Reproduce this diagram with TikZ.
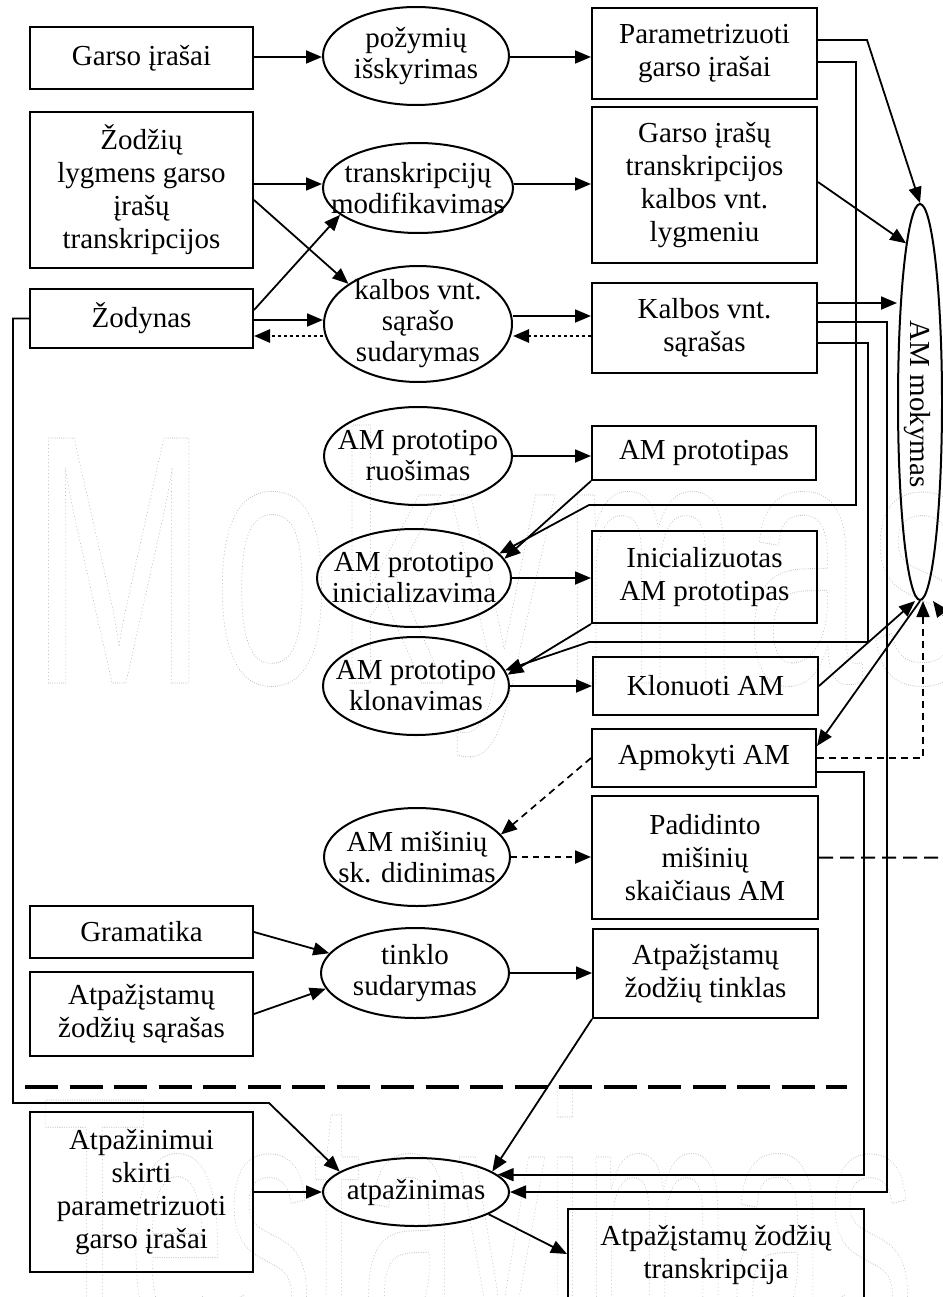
\documentclass[tikz,border=0pt]{standalone}
\usepackage{fontspec}
\setmainfont{Liberation Serif}
\newfontfamily\wmfont{Liberation Sans}
\newfontfamily\wmwidefont{Liberation Sans}[LetterSpace=3.6]
\usetikzlibrary{arrows.meta,shapes.geometric}

\begin{document}
\begin{tikzpicture}[x=1pt,y=-1pt,
  every node/.style={font=\fontsize{29}{33}\selectfont},
  box/.style={draw, line width=2pt, rectangle, inner sep=0pt, align=center},
  ell/.style={draw, line width=2pt, ellipse, inner sep=0pt},
  lbl/.style={align=center, inner sep=0pt, font=\fontsize{29}{31}\selectfont},
  tip/.style={-{Triangle[length=16pt,width=13pt]}},
  conn/.style={line width=1.8pt, tip},
  dotarrow/.style={line width=2.8pt, dash pattern=on 2.8pt off 3.2pt, tip},
  shortdash/.style={line width=1.7pt, dash pattern=on 7pt off 5pt, tip},
  middash/.style={line width=2.2pt, dash pattern=on 6pt off 5pt, tip},
  longdash/.style={line width=2pt, dash pattern=on 14pt off 7pt, tip},
  separator/.style={line width=3.4pt, dash pattern=on 33pt off 11.5pt}]

\useasboundingbox (0,0) rectangle (942,1297);
\fill[white] (0,0) rectangle (942,1297);

% dotted outline lettering in the background
\begin{scope}
\node[inner sep=0pt, anchor=base west] (wmtop) at (31,683)
  {\wmwidefont\fontsize{356}{356}\selectfont\color{black!32}\scalebox{0.59}[1]{\special{pdf:literal direct 1 Tr 1.2 w 1 J [0 3.6] 0 d}Mokymas\special{pdf:literal direct 0 Tr}}};
\end{scope}
\begin{scope}
\node[inner sep=0pt, anchor=base west] (wmbottom) at (41,1345)
  {\wmfont\fontsize{356}{356}\selectfont\color{black!32}\scalebox{0.49}[1]{\special{pdf:literal direct 1 Tr 1.2 w 1 J [0 3.6] 0 d}Testavimas\special{pdf:literal direct 0 Tr}}};
\end{scope}

% left column
\node[box, minimum width=223pt, minimum height=62pt]  (garso)   at (141.5,58)   {Garso įrašai};
\node[box, minimum width=223pt, minimum height=156pt] (zodziu)  at (141.5,190)  {Žodžių\\lygmens garso\\įrašų\\transkripcijos};
\node[box, minimum width=223pt, minimum height=59pt]  (zodynas) at (141.5,318.5) {Žodynas};
\node[box, minimum width=223pt, minimum height=52pt]  (gram)    at (141.5,932)  {Gramatika};
\node[box, minimum width=223pt, minimum height=84pt]  (sarasas) at (141.5,1014) {Atpažįstamų\\žodžių sąrašas};
\node[box, minimum width=223pt, minimum height=160pt] (atpL)    at (141.5,1192) {Atpažinimui\\skirti\\parametrizuoti\\garso įrašai};

% process ellipses
\node[ell, minimum width=186pt, minimum height=98pt]  (pozym)  at (416,56)   {};
\node[lbl] (pozym-t) at (pozym) {požymių\\išskyrimas};
\node[ell, minimum width=190pt, minimum height=90pt]  (trel)   at (418,188)  {};
\node[lbl] (trel-t) at (trel) {transkripcijų\\modifikavimas};
\node[ell, minimum width=188pt, minimum height=116pt] (kel)    at (418,324)  {};
\node[lbl] (kel-t) at (kel) {kalbos vnt.\\sąrašo\\sudarymas};
\node[ell, minimum width=188pt, minimum height=98pt]  (ruos)   at (418,456)  {};
\node[lbl] (ruos-t) at (ruos) {AM prototipo\\ruošimas};
\node[ell, minimum width=194pt, minimum height=98pt]  (inic)   at (414,578)  {};
\node[lbl] (inic-t) at (inic) {AM prototipo\\inicializavima};
\node[ell, minimum width=186pt, minimum height=98pt]  (klonav) at (416,686)  {};
\node[lbl] (klonav-t) at (klonav) {AM prototipo\\klonavimas};
\node[ell, minimum width=186pt, minimum height=98pt]  (misin)  at (417,857)  {};
\node[lbl] (misin-t) at (misin) {AM mišinių\\sk. didinimas};
\node[ell, minimum width=188pt, minimum height=90pt]  (tinklo) at (415,973)  {};
\node[lbl] (tinklo-t) at (tinklo) {tinklo\\sudarymas};
\node[ell, minimum width=186pt, minimum height=68pt]  (atp)    at (416,1192) {};
\node[lbl] (atp-t) at (atp) {atpažinimas};

% right column
\node[box, minimum width=225pt, minimum height=91pt]  (param)   at (704.5,53.5) {Parametrizuoti\\garso įrašai};
\node[box, minimum width=225pt, minimum height=156pt] (transk)  at (704.5,185)  {Garso įrašų\\transkripcijos\\kalbos vnt.\\lygmeniu};
\node[box, minimum width=225pt, minimum height=90pt]  (kalbos)  at (704.5,328)  {Kalbos vnt.\\sąrašas};
\node[box, minimum width=224pt, minimum height=54pt]  (proto)   at (704,453)    {AM prototipas};
\node[box, minimum width=225pt, minimum height=92pt]  (init)    at (704.5,577)  {Inicializuotas\\AM prototipas};
\node[box, minimum width=225pt, minimum height=58pt]  (klon)    at (705.5,686)  {Klonuoti AM};
\node[box, minimum width=224pt, minimum height=58pt]  (apmok)   at (704,758)    {Apmokyti AM};
\node[box, minimum width=226pt, minimum height=123pt] (padid)   at (705,857.5)  {Padidinto\\mišinių\\skaičiaus AM};
\node[box, minimum width=225pt, minimum height=89pt]  (tinklas) at (705.5,973.5) {Atpažįstamų\\žodžių tinklas};
\node[box, minimum width=296pt, minimum height=92pt]  (trans)   at (716,1255)   {Atpažįstamų žodžių\\transkripcija};

% training node
\node[ell, minimum width=44pt, minimum height=396pt] (amm) at (920,402) {};
\node[lbl, rotate=-90] (amm-t) at (917,404) {AM mokymas};

% routing points
\coordinate (pA) at (867,40);
\coordinate (laneP) at (856,0);
\coordinate (laneA) at (864,0);
\coordinate (laneQ) at (868,0);
\coordinate (laneK) at (887,0);
\coordinate (bendP) at (589,505);
\coordinate (bendQ) at (589,642);
\coordinate (offR) at (962,0);
\coordinate (wl) at (13,1103);
\coordinate (wr) at (269,1103);
\coordinate (sepL) at (25,1087);
\coordinate (sepR) at (847,1087);

% upper part
\draw[conn] (garso.east |- 0,57) -- (pozym.west |- 0,57);
\draw[conn] (pozym.east |- 0,57) -- (param.west |- 0,57);
\draw[conn] (zodziu.east |- 0,184) -- (trel.west |- 0,184);
\draw[conn] (trel.east |- 0,184) -- (transk.west |- 0,184);
\draw[conn] (zodziu.east |- 0,200) -- (kel.150);
\draw[conn] (zodynas.east |- 0,310) -- (trel.199);
\draw[conn] (zodynas.east |- 0,320) -- (kel.west |- 0,320);
\draw[dotarrow] (kel.west |- 0,336) -- (zodynas.east |- 0,336);
\draw[conn] (kel.east |- 0,316) -- (kalbos.west |- 0,316);
\draw[dotarrow] (kalbos.west |- 0,336) -- (kel.east |- 0,336);

% inputs of the training
\draw[conn] (param.east |- 0,40) -- (pA) -- (amm.north);
\draw[conn] (transk.east |- 0,182) -- (amm.95);
\draw[conn] (kalbos.east |- 0,303) -- (amm.west |- 0,303);

% long routed lines
\draw[conn] (param.east |- 0,62) -| (laneP |- bendP) -- (bendP) -- (inic.16);
\draw[conn] (kalbos.east |- 0,343) -| (laneQ |- bendQ) -- (bendQ) -- (klonav.10);
\draw[conn] (kalbos.east |- 0,322) -| (laneK |- atp.east) -- (atp.east);
\draw[conn] (apmok.east |- 0,772) -| (laneA |- atp.12) -- (atp.12);

% prototype chain
\draw[conn] (ruos.east) -- (ruos.east -| proto.west);
\draw[conn] (proto.south west) -- (inic.12);
\draw[conn] (inic.east) -- (inic.east -| init.west);
\draw[conn] (init.south west) -- (klonav.7);
\draw[conn] (klonav.east) -- (klonav.east -| klon.west);
\draw[conn] (klon.east) -- ([xshift=-5pt]amm.south);
\draw[conn] (amm.south) -- ([yshift=-18pt]apmok.north east);
\draw[shortdash] (apmok.east |- 0,758) -| ([xshift=3pt]amm.south);
\draw[shortdash] (apmok.west) -- (misin.15);
\draw[middash] (misin.east) -- (misin.east -| padid.west);
\draw[longdash] (padid.east) -- (offR |- padid.east) -- (offR |- 0,640) -- ([xshift=13pt]amm.south);

% network and recognition
\draw[conn] (gram.east) -- (tinklo.167);
\draw[conn] (sarasas.east) -- (tinklo.190);
\draw[conn] (tinklo.east) -- (tinklo.east -| tinklas.west);
\draw[conn] (tinklas.south west) -- (atp.15);
\draw[conn] (zodynas.west) -| (wl) -- (wr) -- (atp.165);
\draw[conn] (atpL.east) -- (atp.west);
\draw[conn] (atp.343) -- (trans.west |- 0,1254);

% training / testing separator
\draw[separator] (sepL) -- (sepR);

\end{tikzpicture}
\end{document}
